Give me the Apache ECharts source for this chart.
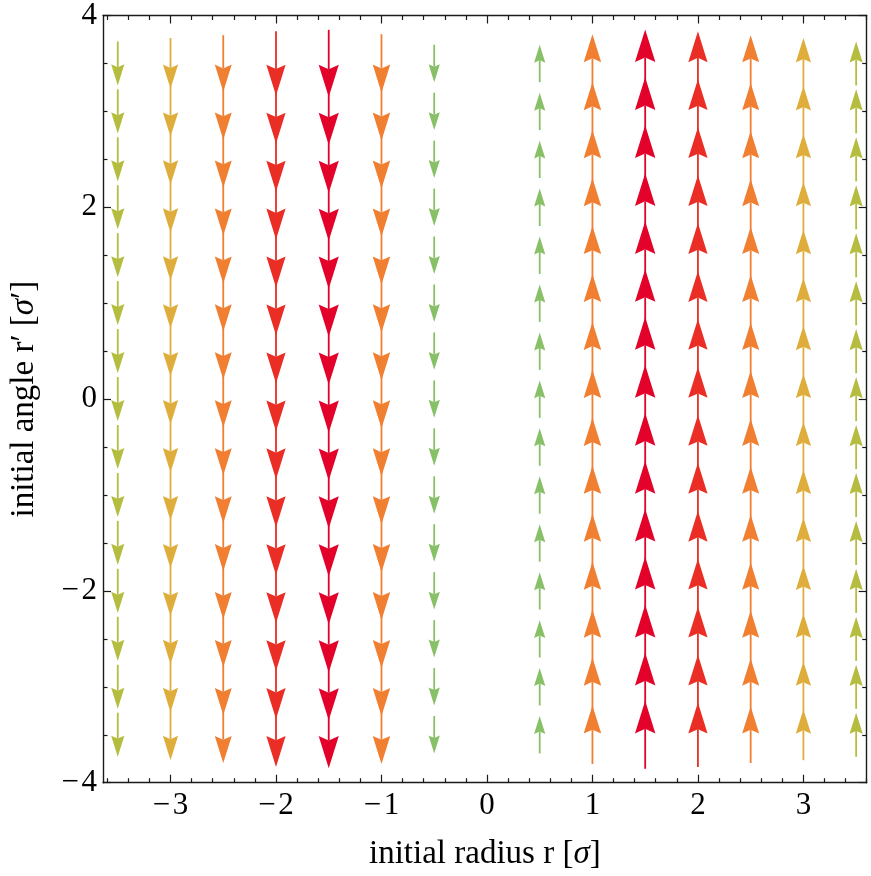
<!DOCTYPE html>
<html><head><meta charset="utf-8">
<script src="https://cdn.jsdelivr.net/npm/echarts@6/dist/echarts.min.js"></script>
<style>html,body{margin:0;padding:0;background:#fff}#c{width:871px;height:876px}</style>
</head><body><div id="c"></div>
<script>
// grid of vector field sample points
const rColumns = [-3.5, -3, -2.5, -2, -1.5, -1, -0.5, 0.5, 1, 1.5, 2, 2.5, 3, 3.5];
const angleRows = [-3.5, -3, -2.5, -2, -1.5, -1, -0.5, 0, 0.5, 1, 1.5, 2, 2.5, 3, 3.5];
// vertical component (drawn arrow length, in σ′ units) for each column
const arrowVy = [-0.46, -0.53, -0.59, -0.67, -0.70, -0.61, -0.39, 0.39, 0.61, 0.71, 0.67, 0.59, 0.53, 0.46];
// colour of each column
const arrowColors = ['#B4BD3F', '#DFAD3B', '#F07F32', '#EA2E25', '#E3022A', '#F07F32', '#88C067',
                     '#88C067', '#F07F32', '#E3022A', '#EA2E25', '#F07F32', '#DFAD3B', '#B4BD3F'];
// tick values
const xMajorTicks = [-3, -2, -1, 0, 1, 2, 3];
const xMinorTicks = [-3.6, -3.4, -3.2, -2.8, -2.6, -2.4, -2.2, -1.8, -1.6, -1.4, -1.2, -0.8, -0.6, -0.4, -0.2,
                     0.2, 0.4, 0.6, 0.8, 1.2, 1.4, 1.6, 1.8, 2.2, 2.4, 2.6, 2.8, 3.2, 3.4, 3.6];
const yMajorTicks = [-4, -2, 0, 2, 4];

const data = [];
rColumns.forEach((r, i) => {
  angleRows.forEach(a => data.push([r, a, arrowVy[i], i]));
});

const chart = echarts.init(document.getElementById('c'), null, {renderer: 'canvas'});
const FONT = 'Liberation Serif, Times New Roman, serif';
const fmt = v => (v < 0 ? '\u2212\u200A' : '') + Math.abs(v);
const lineCol = '#1a1a1a';
const nameStyle = {fontFamily: FONT, fontSize: 33, color: '#000',
  rich: {i: {fontFamily: FONT, fontSize: 33, fontStyle: 'italic', color: '#000'}}};

function xAxisDef(pos, major, withLabels) {
  return {
    type: 'value', position: pos, min: -3.64, max: 3.6,
    axisLine: {show: major, onZero: false, lineStyle: {color: lineCol, width: 1.4}},
    axisTick: {show: true, inside: true, length: major ? 8 : 4.5,
               customValues: major ? xMajorTicks : xMinorTicks,
               lineStyle: {color: lineCol, width: 1.2}},
    axisLabel: withLabels ? {show: true, customValues: xMajorTicks, margin: 8, formatter: fmt,
               fontFamily: FONT, fontSize: 31, color: '#000'} : {show: false},
    splitLine: {show: false},
    name: withLabels ? 'initial radius r [{i|σ}]' : '',
    nameLocation: 'middle', nameGap: 55,
    nameTextStyle: nameStyle
  };
}
function yAxisDef(pos, withLabels) {
  return {
    type: 'value', position: pos, min: -4, max: 4, interval: 2,
    axisLine: {show: true, onZero: false, lineStyle: {color: lineCol, width: 1.4}},
    axisTick: {show: true, inside: true, length: 8, lineStyle: {color: lineCol, width: 1.2}},
    minorTick: {show: true, splitNumber: 4, length: 4.5, lineStyle: {color: lineCol, width: 1.2}},
    axisLabel: withLabels ? {show: true, margin: 6, formatter: fmt,
               fontFamily: FONT, fontSize: 31, color: '#000'} : {show: false},
    splitLine: {show: false}, minorSplitLine: {show: false},
    name: withLabels ? 'initial angle r\u2032 [{i|σ}\u2032]' : '',
    nameLocation: 'middle', nameGap: 62, nameRotate: 90,
    nameTextStyle: nameStyle
  };
}

function renderItem(params, api) {
  const x = api.value(0), y = api.value(1), vy = api.value(2);
  const color = arrowColors[api.value(3)];
  const tail = api.coord([x, y - vy / 2]);
  const tip = api.coord([x, y + vy / 2]);
  const dx = tip[0] - tail[0], dy = tip[1] - tail[1];
  const L = Math.hypot(dx, dy);
  const ux = dx / L, uy = dy / L;
  const px = -uy, py = ux;
  const hl = 0.48 * L, hw = 0.15 * L;
  const base = [tip[0] - ux * hl, tip[1] - uy * hl];
  const notch = [tip[0] - ux * hl * 0.86, tip[1] - uy * hl * 0.86];
  return {
    type: 'group',
    children: [
      {type: 'line', shape: {x1: tail[0], y1: tail[1], x2: notch[0], y2: notch[1]},
       style: {stroke: color, lineWidth: 1.8}},
      {type: 'polygon', shape: {points: [tip, [base[0] + px * hw, base[1] + py * hw], notch,
                                          [base[0] - px * hw, base[1] - py * hw]]},
       style: {fill: color}}
    ]
  };
}

chart.setOption({
  animation: false,
  backgroundColor: '#fff',
  grid: {left: 103, top: 14, width: 763.7, height: 768.7, containLabel: false},
  xAxis: [xAxisDef('bottom', true, true), xAxisDef('bottom', false, false),
          xAxisDef('top', true, false), xAxisDef('top', false, false)],
  yAxis: [yAxisDef('left', true), yAxisDef('right', false)],
  series: [{
    type: 'custom', xAxisIndex: 0, yAxisIndex: 0,
    renderItem: renderItem, data: data, clip: false
  }]
});
</script></body></html>
